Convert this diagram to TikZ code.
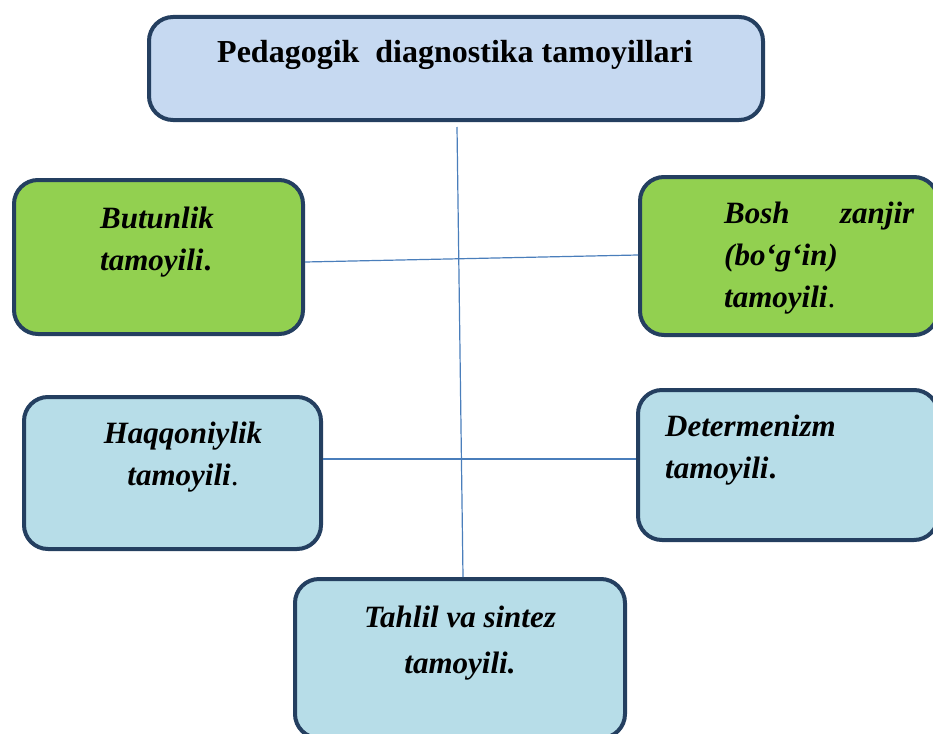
\documentclass[tikz,border=0pt]{standalone}
\usepackage{fontspec}
\setmainfont{Liberation Serif}
\usetikzlibrary{positioning}

\definecolor{headfill}{HTML}{C6D9F1}
\definecolor{boxgreen}{HTML}{92D050}
\definecolor{boxblue}{HTML}{B7DDE8}
\definecolor{boxborder}{HTML}{243F60}
\definecolor{linkblue}{HTML}{4A7EBB}

\begin{document}
\begin{tikzpicture}[x=1pt, y=-1pt,
    tamoyilbox/.style={rectangle, rounded corners=24pt, draw=boxborder, line width=4pt},
    greenbox/.style={tamoyilbox, fill=boxgreen},
    bluebox/.style={tamoyilbox, fill=boxblue},
    boxtext/.style={inner sep=0pt, font=\fontsize{31}{42}\selectfont\bfseries\itshape},
    link/.style={draw=linkblue, line width=1.2pt}]

        \clip (0,0) rectangle (933,733);

        % boxes
        \node[tamoyilbox, fill=headfill, minimum width=614pt, minimum height=103pt] (head) at (456,68.5) {};
        \node[greenbox, minimum width=289pt, minimum height=154pt] (butunlik) at (158.5,257) {};
        \node[greenbox, minimum width=298pt, minimum height=158pt] (bosh) at (789,256) {};
        \node[bluebox, minimum width=297pt, minimum height=152pt] (haqqoniylik) at (172.5,473) {};
        \node[bluebox, minimum width=300pt, minimum height=150pt] (determenizm) at (788,465) {};
        \node[bluebox, minimum width=330pt, minimum height=159pt] (tahlil) at (460,658.5) {};

        % texts (base = last line)
        \node[inner sep=0pt, anchor=base, font=\fontsize{32}{40}\selectfont\bfseries] (headtext) at (455,63) {Pedagogik\ \ diagnostika tamoyillari};
        \node[boxtext, anchor=base west, align=left] (butunliktext) at (100,270) {Butunlik\\tamoyili{\upshape.}};
        \node[boxtext, anchor=base west, align=left, text width=190pt] (boshtext) at (724,223) {Bosh\hfill zanjir\\(bo‘g‘in)\\tamoyili{\normalfont.}};
        \node[boxtext, anchor=base, align=center] (haqqoniyliktext) at (183,485) {Haqqoniylik\\tamoyili{\normalfont.}};
        \node[boxtext, anchor=base west, align=left] (determenizmtext) at (665,478) {Determenizm\\tamoyili{\upshape.}};
        \node[boxtext, anchor=base, align=center, font=\fontsize{31}{46}\selectfont\bfseries\itshape] (tahliltext) at (460,673) {Tahlil va sintez\\tamoyili.};

        % connectors
        \draw[link] ([xshift=1pt, yshift=-5pt]head.south) -- ([xshift=3pt]tahlil.north);
        \draw[link] ([yshift=-5pt]butunlik.east) -- ([yshift=1pt]bosh.west);
        \draw[link] ([yshift=14pt]haqqoniylik.east) -- ([yshift=6pt]determenizm.west);

\end{tikzpicture}
\end{document}
